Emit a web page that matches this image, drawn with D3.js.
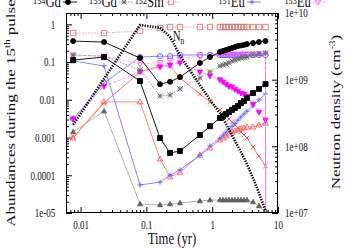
<!DOCTYPE html>
<html>
<head>
<meta charset="utf-8">
<title>Abundances during the 15th pulse</title>
<script src="https://cdn.jsdelivr.net/npm/d3@7"></script>
<style>
  body { margin: 0; background: #fff; }
  text { font-family: "Liberation Serif", "DejaVu Serif", serif; fill: #111; }
</style>
</head>
<body>
<div id="chart"></div>
<script>
// time grid of the snapshots (yr)
var times = [0.0077, 0.0227, 0.080, 0.161, 0.229, 0.324, 0.65, 0.925, 1.31, 1.46, 1.62, 1.80,
             2.0, 2.22, 2.47, 2.74, 3.04, 3.38, 4.17, 5.14, 6.46, 6.5];

// abundances (left axis)
var gd154 = [0.36, 0.34, 0.128, 0.026, 0.030, 0.040, 0.095, 0.136, 0.185, 0.197, 0.209, 0.222,
             0.236, 0.251, 0.267, 0.275, 0.284, 0.30, 0.32, 0.34, 0.36];
var gd155 = [0.154, 0.143, 0.062, 0.0126, 0.0134, 0.0194, 0.038, 0.055, 0.079, 0.084, 0.089, 0.095,
             0.107, 0.113, 0.121, 0.128, 0.132, 0.136, 0.154, 0.163, 0.174];
var sm152 = [0.59, 0.59, 0.67, 0.80, 0.85, 0.85, 0.85, 0.85, 0.85, 0.85, 0.85, 0.85,
             0.85, 0.85, 0.85, 0.85, 0.85, 0.85, 0.85, 0.85, 0.85];
var eu151 = [0.107, 0.079, 5.5e-5, 6.6e-5, 1.0e-4, 1.4e-4, 3.4e-4, 6.0e-4, 9.7e-4, 1.17e-3, 1.40e-3, 1.68e-3,
             2.0e-3, 2.4e-3, 2.9e-3, 3.5e-3, 4.2e-3, 5.0e-3, 6.9e-3, 9.9e-3, 0.0143];
var eu153 = [0.154, 0.143, 0.089, 0.098, 0.113, 0.128, 0.143, 0.154, 0.163, 0.163, 0.163, 0.163,
             0.163, 0.163, 0.163, 0.163, 0.163, 0.165, 0.168, 0.170, 0.174, 1e-7];
var sqBlack = [0.113, 0.136, 0.0315, 9.7e-4, 3.9e-4, 4.4e-4, 1.17e-3, 2.0e-3, 3.3e-3, 3.7e-3, 4.2e-3, 4.75e-3,
               5.4e-3, 6.1e-3, 6.9e-3, 8.2e-3, 9.3e-3, 0.0112, 0.0152, 0.0194, 0.0262];
var circBlue = [0.0031, 0.028, 0.136, 0.143, 0.143, 0.154, 0.154, 0.154, 0.154, 0.154, 0.154, 0.154,
                0.154, 0.154, 0.154, 0.154, 0.154, 0.154, 0.154, 0.154, 0.154, 1e-7];
var triMagenta = [0.0031, 0.023, 0.055, 0.074, 0.084, 0.095, 0.055, 0.043, 0.034, 0.030, 0.026, 0.023,
                  0.022, 0.019, 0.017, 0.015, 0.0143, 0.0126, 0.0077, 0.0047, 0.0029];
var triRed = [9.7e-4, 8.8e-3, 8.8e-3, 2.7e-4, 9.0e-5, 1.2e-4, 3.4e-4, 5.3e-4, 8.6e-4, 9.7e-4, 1.1e-3, 1.24e-3,
              1.4e-3, 1.5e-3, 1.6e-3, 1.7e-3, 1.8e-3, 1.9e-3, 1.9e-3, 2.15e-3, 2.4e-3];
var crossRed = [1.0e-3, 8.2e-3, 0.055, 0.079, 0.079, 0.038, 0.0143, 8.8e-3, 5.4e-3, 4.5e-3, 3.7e-3, 3.1e-3,
                2.6e-3, 2.15e-3, 1.8e-3, 1.4e-3, 1.17e-3, 9.7e-4, 5.6e-4, 3.2e-4, 1.76e-4];
var triGray = [1.4e-3, 5.0e-3, 1.73e-5, 1.63e-5, 1.73e-5, 1.84e-5, 2.08e-5, 2.2e-5, 2.2e-5, 2.2e-5, 2.2e-5, 2.2e-5,
               2.2e-5, 2.2e-5, 2.2e-5, 2.2e-5, 2.2e-5, 2.2e-5, 1.96e-5, 1.53e-5, 1.13e-5];

// neutron density (right axis, cm^-3)
var nDensity = [2.1e8, 1.03e9, 6.6e9, 6.0e9, 4.4e9, 2.3e9, 8.3e8, 5.0e8, 3.16e8, 2.62e8, 2.16e8, 1.79e8,
                1.48e8, 1.2e8, 9.9e7, 8.2e7, 6.7e7, 5.4e7, 3.35e7, 2.0e7, 1.07e7];

// tick labels
var xTicks = [0.01, 0.1, 1, 10];
var xTickLabels = ["0.01", "0.1", "1", "10"];
var yTicks = [1e-5, 1e-4, 1e-3, 1e-2, 0.1, 1];
var yTickLabels = ["1e-05", "0.0001", "0.001", "0.01", "0.1", "1"];
var y2Ticks = [1e7, 1e8, 1e9, 1e10];
var y2TickLabels = ["1e+07", "1e+08", "1e+09", "1e+10"];

var W = 354, H = 248;
var plotL = 66, plotR = 278, plotT = 13, plotB = 213;
var SQ = 0.75; // horizontal squeeze of the glyphs

var svg = d3.select("#chart").append("svg")
    .attr("width", W).attr("height", H);

var x = d3.scaleLog().domain([0.006, 10]).range([plotL, plotR]);
var y = d3.scaleLog().domain([1e-5, 2]).range([plotB, plotT]);
var y2 = d3.scaleLog().domain([1e7, 1e10]).range([plotB, plotT]);

function minors(lo, hi) {
  var out = [];
  for (var e = Math.floor(Math.log10(lo)); e <= Math.ceil(Math.log10(hi)); e++)
    for (var k = 2; k < 10; k++) {
      var v = k * Math.pow(10, e);
      if (v > lo && v < hi) out.push(v);
    }
  return out;
}

function fmt(vals, labels) {
  return function(d) { return labels[vals.indexOf(d)]; };
}

// axes
function styleAxis(g) {
  g.select(".domain").remove();
  g.attr("font-family", null).attr("font-size", 12);
  g.selectAll("text").attr("transform", "scale(" + SQ + ",1)").attr("fill", null);
  g.selectAll("line").attr("stroke", "#000");
}

svg.append("g").attr("transform", "translate(0," + plotB + ")")
  .call(d3.axisBottom(x).tickValues(xTicks).tickSize(-6).tickPadding(7).tickFormat(fmt(xTicks, xTickLabels)))
  .call(styleAxis);
svg.append("g").attr("transform", "translate(0," + plotB + ")")
  .call(d3.axisBottom(x).tickValues(minors(0.006, 10)).tickSize(-3).tickFormat(""))
  .call(styleAxis);
svg.append("g").attr("transform", "translate(0," + plotT + ")")
  .call(d3.axisTop(x).tickValues(xTicks).tickSize(-6).tickFormat(""))
  .call(styleAxis);
svg.append("g").attr("transform", "translate(0," + plotT + ")")
  .call(d3.axisTop(x).tickValues(minors(0.006, 10)).tickSize(-3).tickFormat(""))
  .call(styleAxis);

svg.append("g").attr("transform", "translate(" + plotL + ",0)")
  .call(d3.axisLeft(y).tickValues(yTicks).tickSize(-6).tickPadding(14.5).tickFormat(fmt(yTicks, yTickLabels)))
  .call(styleAxis);
svg.append("g").attr("transform", "translate(" + plotL + ",0)")
  .call(d3.axisLeft(y).tickValues(minors(1e-5, 2)).tickSize(-3).tickFormat(""))
  .call(styleAxis);

svg.append("g").attr("transform", "translate(" + plotR + ",0)")
  .call(d3.axisRight(y2).tickValues(y2Ticks).tickSize(-6).tickPadding(9.5).tickFormat(fmt(y2Ticks, y2TickLabels)))
  .call(styleAxis);
svg.append("g").attr("transform", "translate(" + plotR + ",0)")
  .call(d3.axisRight(y2).tickValues(minors(1e7, 1e10)).tickSize(-3).tickFormat(""))
  .call(styleAxis);

// clip to the plot box
svg.append("clipPath").attr("id", "box")
  .append("rect").attr("x", plotL).attr("y", plotT).attr("width", plotR - plotL).attr("height", plotB - plotT);

// marker shapes, r = half size in px
var shapes = {
  circle: function(p, r) { p.moveTo(r, 0); p.arc(0, 0, r, 0, 2 * Math.PI); },
  square: function(p, r) { p.rect(-r, -r, 2 * r, 2 * r); },
  triUp: function(p, r) { p.moveTo(0, -r * 1.1); p.lineTo(r, r * 0.7); p.lineTo(-r, r * 0.7); p.closePath(); },
  triDown: function(p, r) { p.moveTo(0, r * 1.1); p.lineTo(r, -r * 0.7); p.lineTo(-r, -r * 0.7); p.closePath(); },
  plus: function(p, r) { p.moveTo(-r, 0); p.lineTo(r, 0); p.moveTo(0, -r); p.lineTo(0, r); },
  cross: function(p, r) { p.moveTo(-r, -r); p.lineTo(r, r); p.moveTo(-r, r); p.lineTo(r, -r); },
  star: function(p, r) {
    p.moveTo(-r, 0); p.lineTo(r, 0); p.moveTo(0, -r); p.lineTo(0, r);
    p.moveTo(-r, -r); p.lineTo(r, r); p.moveTo(-r, r); p.lineTo(r, -r);
  }
};
function shapePath(name, r) { var p = d3.path(); shapes[name](p, r); return p.toString(); }

var series = [
  {vals: triGray,    color: "#aaaaaa", mcol: "#606060", dash: null,      shape: "triUp",   r: 2.5, fill: true},
  {vals: crossRed,   color: "#ff6868", mcol: "#ff4848", dash: null,      shape: "cross",   r: 2.3, fill: false},
  {vals: triRed,     color: "#ff7878", mcol: "#ff5858", dash: null,      shape: "triUp",   r: 2.8, fill: false},
  {vals: eu151,      color: "#7878ff", mcol: "#5a5aff", dash: null,      shape: "plus",    r: 2.6, fill: false},
  {vals: circBlue,   color: "#7878ff", mcol: "#5a5aff", dash: null,      shape: "circle",  r: 2.7, fill: false},
  {vals: triMagenta, color: "#ff70ff", mcol: "#ff00ff", dash: "3,2",     shape: "triDown", r: 2.7, fill: true},
  {vals: eu153,      color: "#ff99ff", mcol: "#ff55ff", dash: "3,2",     shape: "triDown", r: 2.7, fill: false},
  {vals: sm152,      color: "#e09a9a", mcol: "#d87070", dash: "1.5,1.5", shape: "square",  r: 2.7, fill: false},
  {vals: gd155,      color: "#909090", mcol: "#6a6a6a", dash: "1.5,1.5", shape: "star",    r: 2.6, fill: false},
  {vals: sqBlack,    color: "#000000", mcol: "#000000", dash: null,      shape: "square",  r: 2.5, fill: true},
  {vals: gd154,      color: "#000000", mcol: "#000000", dash: null,      shape: "circle",  r: 2.5, fill: true}
];

var plot = svg.append("g").attr("clip-path", "url(#box)");

var line = d3.line().x(function(d) { return x(d[0]); }).y(function(d) { return y(d[1]); });

series.forEach(function(s) {
  var pts = s.vals.map(function(v, i) { return [times[i], v]; });
  plot.append("path").datum(pts)
    .attr("d", line)
    .attr("fill", "none")
    .attr("stroke", s.color)
    .attr("stroke-width", 0.9)
    .attr("stroke-dasharray", s.dash);
  plot.selectAll(null)
    .data(pts.filter(function(d) { return d[1] >= 1e-5 && d[1] <= 2; }))
    .enter().append("path")
    .attr("transform", function(d) { return "translate(" + x(d[0]) + "," + y(d[1]) + ")"; })
    .attr("d", shapePath(s.shape, s.r))
    .attr("fill", s.fill ? s.mcol : "none")
    .attr("stroke", s.mcol)
    .attr("stroke-width", 0.9);
});

// neutron density, thick dotted
var line2 = d3.line().x(function(d) { return x(d[0]); }).y(function(d) { return y2(d[1]); });
plot.append("path")
  .datum(nDensity.map(function(v, i) { return [times[i], v]; }))
  .attr("d", line2)
  .attr("fill", "none")
  .attr("stroke", "#000")
  .attr("stroke-width", 2.6)
  .attr("stroke-dasharray", "1.3,1.3");

var nLabel = svg.append("text")
  .attr("transform", "translate(173,41) scale(" + SQ + ",1)")
  .attr("font-size", 14);
nLabel.append("tspan").text("N");
nLabel.append("tspan").attr("font-size", 10).attr("dy", 3).text("n");

// border
svg.append("rect")
  .attr("x", plotL + 0.5).attr("y", plotT + 0.5)
  .attr("width", plotR - plotL - 1).attr("height", plotB - plotT - 1)
  .attr("fill", "none").attr("stroke", "#000").attr("stroke-width", 1);

// legend (top row, partly cut by the picture edge)
var legendIso = ["154", "155", "152", "151", "153"];
var legendEl = ["Gd", "Gd", "Sm", "Eu", "Eu"];
var legendX = [68, 124, 171, 252, 318];
var legendSeries = [10, 8, 7, 3, 6];

legendIso.forEach(function(iso, i) {
  var s = series[legendSeries[i]];
  var m = legendX[i];
  var t = svg.append("text")
    .attr("transform", "translate(" + (m - 7) + ",7) scale(" + SQ + ",1)")
    .attr("text-anchor", "end")
    .attr("font-size", 17);
  t.append("tspan").attr("font-size", 11).attr("dy", -3).text(iso);
  t.append("tspan").attr("dy", 3).text(legendEl[i]);
  svg.append("line")
    .attr("x1", m - 5).attr("x2", m + 9).attr("y1", 2).attr("y2", 2)
    .attr("stroke", s.color).attr("stroke-width", 0.9).attr("stroke-dasharray", s.dash);
  svg.append("path")
    .attr("transform", "translate(" + m + ",2)")
    .attr("d", shapePath(s.shape, s.r))
    .attr("fill", s.fill ? s.mcol : "none")
    .attr("stroke", s.mcol).attr("stroke-width", 0.9);
});

// axis titles
svg.append("text")
  .attr("transform", "translate(172,244) scale(" + SQ + ",1)")
  .attr("text-anchor", "middle").attr("font-size", 17)
  .text("Time (yr)");

var yt = svg.append("text")
  .attr("transform", "translate(15,113) scale(" + SQ + ",1) rotate(-90)")
  .attr("text-anchor", "middle").attr("font-size", 17);
yt.append("tspan").text("Abundances during the 15");
yt.append("tspan").attr("font-size", 11).attr("dy", -7).text("th");
yt.append("tspan").attr("dy", 7).text(" pulse");

var y2t = svg.append("text")
  .attr("transform", "translate(340,112) scale(" + SQ + ",1) rotate(-90)")
  .attr("text-anchor", "middle").attr("font-size", 17);
y2t.append("tspan").text("Neutron density (cm");
y2t.append("tspan").attr("font-size", 11).attr("dy", -7).text("-3");
y2t.append("tspan").attr("dy", 7).text(")");
</script>
</body>
</html>
